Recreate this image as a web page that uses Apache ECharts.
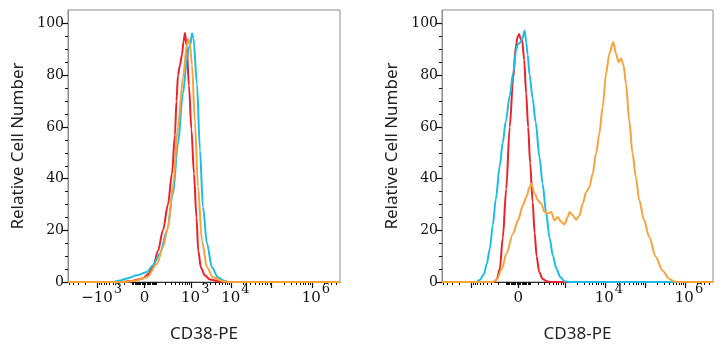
<!DOCTYPE html>
<html><head><meta charset="utf-8">
<script src="https://cdn.jsdelivr.net/npm/echarts@6/dist/echarts.min.js"></script>
<style>html,body{margin:0;padding:0;background:#fff}#c{width:726px;height:350px}</style>
</head><body><div id="c"></div>
<script>
// x: logicle display units (decades), y: relative cell number
const leftRed = [[0,0],[1.168,0],[1.366,0.1],[1.615,0.5],[1.863,1.4],[1.988,3],[2.112,5.7],[2.236,12],[2.360,20],[2.484,30],[2.584,42],[2.658,57],[2.696,70],[2.733,80],[2.783,84],[2.832,88],[2.870,93],[2.907,96.4],[2.949,91.5],[3.006,76],[3.068,59],[3.130,42],[3.193,25],[3.238,12],[3.304,5.5],[3.404,2.5],[3.528,1.0],[3.776,0.2],[3.950,0],[6.76,0]];
const leftCyan = [[0,0],[1.118,0],[1.292,0.6],[1.466,1.4],[1.714,2.6],[1.963,3.9],[2.112,6.5],[2.286,11],[2.460,20],[2.609,34],[2.733,53.5],[2.857,73],[2.957,86],[3.006,91],[3.043,92],[3.081,96.3],[3.118,94.5],[3.205,76.6],[3.280,51],[3.354,29],[3.453,15],[3.578,5.7],[3.727,1.8],[3.876,0.5],[4.0,0],[6.76,0]];
const leftOrange = [[0,0],[1.416,0],[1.665,0.5],[1.963,1.8],[2.211,7],[2.360,13.5],[2.484,21],[2.609,37],[2.733,60],[2.857,79],[2.957,92],[2.989,94.2],[3.031,92],[3.081,84],[3.155,62],[3.230,37],[3.329,16],[3.453,5.7],[3.602,1.8],[3.851,0.3],[4.025,0],[6.76,0]];
const rightRed = [[0,0],[1.292,0],[1.366,1],[1.441,5],[1.516,17],[1.602,36],[1.689,60],[1.776,79],[1.839,91],[1.888,95],[1.925,96],[1.963,94],[2.0,93.5],[2.050,86],[2.099,73],[2.149,60],[2.199,46],[2.261,31],[2.311,19],[2.360,10],[2.422,4],[2.509,1.2],[2.609,0.3],[2.733,0],[6.76,0]];
const rightCyan = [[0,0],[0.845,0],[0.944,0.8],[1.043,3],[1.118,7],[1.193,13],[1.267,22],[1.342,32],[1.441,45],[1.516,54],[1.590,62],[1.689,72],[1.776,81],[1.851,90],[1.888,92],[1.938,92.5],[2.0,94],[2.062,97.4],[2.099,93],[2.137,88],[2.186,80],[2.261,71],[2.335,62],[2.435,48],[2.509,38],[2.596,27],[2.683,17],[2.770,10],[2.857,5],[2.957,1.8],[3.056,0.3],[3.180,0],[6.76,0]];
const rightOrange = [[0,0],[1.267,0],[1.366,1],[1.491,5],[1.607,11],[1.771,18.7],[1.896,23.9],[2.020,29.7],[2.104,32.9],[2.186,36.8],[2.229,38],[2.311,34.2],[2.393,31.6],[2.477,30.3],[2.559,27.1],[2.641,26.5],[2.725,27.1],[2.807,23.9],[2.889,25.2],[2.974,23.2],[3.056,22.3],[3.138,25.2],[3.180,27.1],[3.262,25.8],[3.347,24.1],[3.429,25.8],[3.511,30.3],[3.595,34.8],[3.677,36.8],[3.759,41.9],[3.843,49.7],[3.925,57.4],[4.007,67.7],[4.092,80.6],[4.174,88.4],[4.273,92.9],[4.340,88.4],[4.405,85.1],[4.465,86.5],[4.529,83.9],[4.589,76.8],[4.671,62.6],[4.753,49.7],[4.837,40.6],[4.919,31.6],[5.043,23.9],[5.168,17.4],[5.334,9.7],[5.498,4.5],[5.665,1.3],[5.789,0.2],[5.913,0],[6.76,0]];

const leftLabelValues = [-1000, 0, 1000, 10000, 1000000];
const rightLabelValues = [0, 10000, 1000000];
const majorTickValues = [-1000, 0, 1000, 10000, 100000, 1000000];
const yLabelValues = [0, 20, 40, 60, 80, 100];
const yMinorValues = [5, 10, 15, 25, 30, 35, 45, 50, 55, 65, 70, 75, 85, 90, 95];
const xAxisName = 'CD38-PE';
const yAxisName = 'Relative Cell Number';

const X_MAX = 6.76, Y_MAX = 105.3;
const T0 = 1.90, W = 138;
function toT(v) { return T0 + Math.asinh(v / W) / Math.LN10; }
const minorTickValues = [];
[10, 100, 1000, 10000, 100000, 1000000].forEach(b => {
  for (let m = 1; m <= 9; m++) {
    const v = m * b;
    if (majorTickValues.includes(v)) continue;
    minorTickValues.push(v);
    if (!majorTickValues.includes(-v)) minorTickValues.push(-v);
  }
});
const inRange = t => t >= 0 && t <= X_MAX;
const majorT = majorTickValues.map(toT).filter(inRange);
const minorT = minorTickValues.map(toT).filter(inRange);

function labelFormatter(list) {
  return function (val) {
    let best = list[0], bd = Infinity;
    list.forEach(r => { const d = Math.abs(toT(r) - val); if (d < bd) { bd = d; best = r; } });
    if (best === 0) return '{b|0}';
    const k = Math.round(Math.log10(Math.abs(best)));
    return '{bp|' + (best < 0 ? '\u221210' : '10') + '}{s|' + k + '}';
  };
}
const serif = 'DejaVu Serif';
const rich = {
  b: { fontFamily: serif, fontSize: 15, lineHeight: 15, color: '#111', padding: [7, 0, 0, 0] },
  bp: { fontFamily: serif, fontSize: 15, lineHeight: 15, color: '#111', padding: [7, 0, 0, 8] },
  s: { fontFamily: serif, fontSize: 13, lineHeight: 13, color: '#111', padding: [0, 0, 9, 1] }
};

function xAxes(gridIndex, labels) {
  return [{
    gridIndex, type: 'value', min: 0, max: X_MAX, position: 'bottom',
    axisLine: { onZero: false, lineStyle: { color: '#333', width: 1 } },
    axisTick: { customValues: majorT, length: 6, lineStyle: { color: '#111', width: 1.2 } },
    axisLabel: { customValues: labels.map(toT), formatter: labelFormatter(labels), rich, margin: 5 },
    splitLine: { show: false },
    name: xAxisName, nameLocation: 'middle', nameGap: 44,
    nameTextStyle: { fontFamily: 'Noto Sans', fontSize: 17, color: '#222' }
  }, {
    gridIndex, type: 'value', min: 0, max: X_MAX, position: 'bottom',
    axisLine: { show: false, onZero: false },
    axisTick: { customValues: minorT, length: 3, lineStyle: { color: '#111', width: 1 } },
    axisLabel: { show: false }, splitLine: { show: false }
  }];
}
function yAxes(gridIndex) {
  return [{
    gridIndex, type: 'value', min: 0, max: Y_MAX, position: 'left',
    axisLine: { show: true, onZero: false, lineStyle: { color: '#8a8a8a', width: 1 } },
    axisTick: { customValues: yLabelValues, length: 6, lineStyle: { color: '#111', width: 1.2 } },
    axisLabel: { customValues: yLabelValues, fontFamily: serif, fontSize: 14, color: '#111', margin: 4 },
    splitLine: { show: false },
    name: yAxisName, nameLocation: 'middle', nameGap: 41,
    nameTextStyle: { fontFamily: 'Noto Sans', fontSize: 17, color: '#222' }
  }, {
    gridIndex, type: 'value', min: 0, max: Y_MAX, position: 'left',
    axisLine: { show: false, onZero: false },
    axisTick: { customValues: yMinorValues, length: 3, lineStyle: { color: '#111', width: 1 } },
    axisLabel: { show: false }, splitLine: { show: false }
  }];
}
const RED = '#e8232b', ORANGE = '#f6a33b', CYAN = '#1dbde3';
function line(data, color, xi, yi) {
  return { type: 'line', data, xAxisIndex: xi, yAxisIndex: yi, showSymbol: false, symbol: 'none',
    smooth: 0.3, smoothMonotone: 'x', lineStyle: { color, width: 2 }, itemStyle: { color } };
}
const chart = echarts.init(document.getElementById('c'), null, { renderer: 'canvas' });
chart.setOption({
  animation: false,
  backgroundColor: '#fff',
  grid: [
    { left: 68, top: 10, width: 272, height: 272, show: true, borderColor: '#8c8c8c', borderWidth: 1 },
    { left: 442, top: 10, width: 271, height: 272, show: true, borderColor: '#8c8c8c', borderWidth: 1 }
  ],
  xAxis: [...xAxes(0, leftLabelValues), ...xAxes(1, rightLabelValues)],
  yAxis: [...yAxes(0), ...yAxes(1)],
  series: [
    line(leftRed, RED, 0, 0), line(leftCyan, CYAN, 0, 0), line(leftOrange, ORANGE, 0, 0),
    line(rightRed, RED, 2, 2), line(rightCyan, CYAN, 2, 2), line(rightOrange, ORANGE, 2, 2)
  ]
});
</script></body></html>
